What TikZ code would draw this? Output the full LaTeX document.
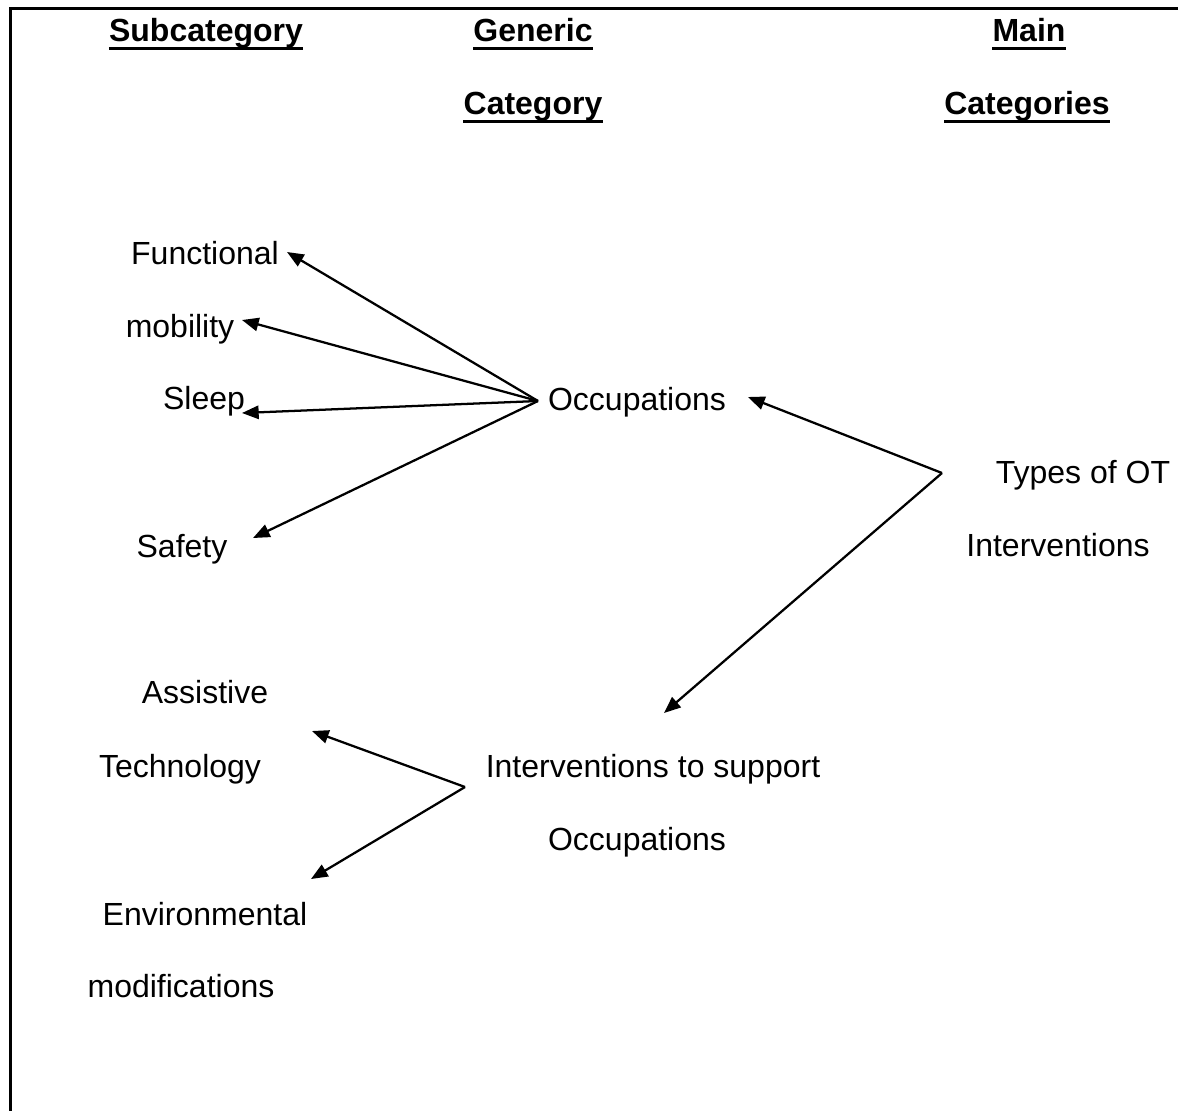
\documentclass[tikz,border=0pt]{standalone}
\usepackage{fontspec}
\setmainfont{Liberation Sans}
\usetikzlibrary{arrows.meta}
\begin{document}
\begin{tikzpicture}[x=0.75pt,y=-0.75pt,
  lbl/.style={inner sep=0pt, anchor=base, font=\fontsize{24pt}{28pt}\selectfont},
  hdr/.style={lbl, font=\fontsize{24pt}{28pt}\selectfont\bfseries},
  uline/.style={line width=2.25pt},
  frame/.style={line width=2.25pt},
  arr/.style={line width=1.7pt, -{Triangle[length=12.5pt,width=10pt]}}]
\useasboundingbox (0,0) rectangle (1178,1111);
% frame
\coordinate (ftl) at (10,8);
\coordinate (ftr) at (1178,8);
\coordinate (fbl) at (10,1111);
\draw[frame] (ftr) -- (ftl) -- (fbl);
% headers
\node[hdr] (hsub) at (206,41) {Subcategory};
\node[hdr] (hgen) at (533,41) {Generic};
\node[hdr] (hcat) at (533,114) {Category};
\node[hdr] (hmain) at (1029,41) {Main};
\node[hdr] (hcats) at (1027,114) {Categories};
\foreach \n in {hsub,hgen,hcat,hmain,hcats}{
  \draw[uline] ([yshift=-5.6pt]\n.base west) -- ([yshift=-5.6pt]\n.base east);
}
% labels
\node[lbl] (func) at (205,264) {Functional};
\node[lbl] (mob) at (180,337) {mobility};
\node[lbl] (sleep) at (204,409) {Sleep};
\node[lbl] (safety) at (182,557) {Safety};
\node[lbl] (occ) at (637,410) {Occupations};
\node[lbl] (types) at (1083,483) {Types of OT};
\node[lbl] (interv) at (1058,556) {Interventions};
\node[lbl] (assist) at (205,703) {Assistive};
\node[lbl] (tech) at (180,777) {Technology};
\node[lbl] (its) at (653,777) {Interventions to support};
\node[lbl] (occ2) at (637,850) {Occupations};
\node[lbl] (env) at (205,925) {Environmental};
\node[lbl] (mods) at (181,997) {modifications};
% hubs and tips
\coordinate (hubA) at (538,401);
\coordinate (hubB) at (942,473);
\coordinate (hubC) at (465,787);
\coordinate (tFunc) at (287,252);
\coordinate (tMob) at (242,320);
\coordinate (tSleep) at (242,413);
\coordinate (tSafety) at (253,538);
\coordinate (tOcc) at (748,397);
\coordinate (tIts) at (664,713);
\coordinate (tTech) at (312,731);
\coordinate (tEnv) at (311,879);
% arrows
\draw[arr] (hubA) -- (tFunc);
\draw[arr] (hubA) -- (tMob);
\draw[arr] (hubA) -- (tSleep);
\draw[arr] (hubA) -- (tSafety);
\draw[arr] (hubB) -- (tOcc);
\draw[arr] (hubB) -- (tIts);
\draw[arr] (hubC) -- (tTech);
\draw[arr] (hubC) -- (tEnv);
\end{tikzpicture}
\end{document}
